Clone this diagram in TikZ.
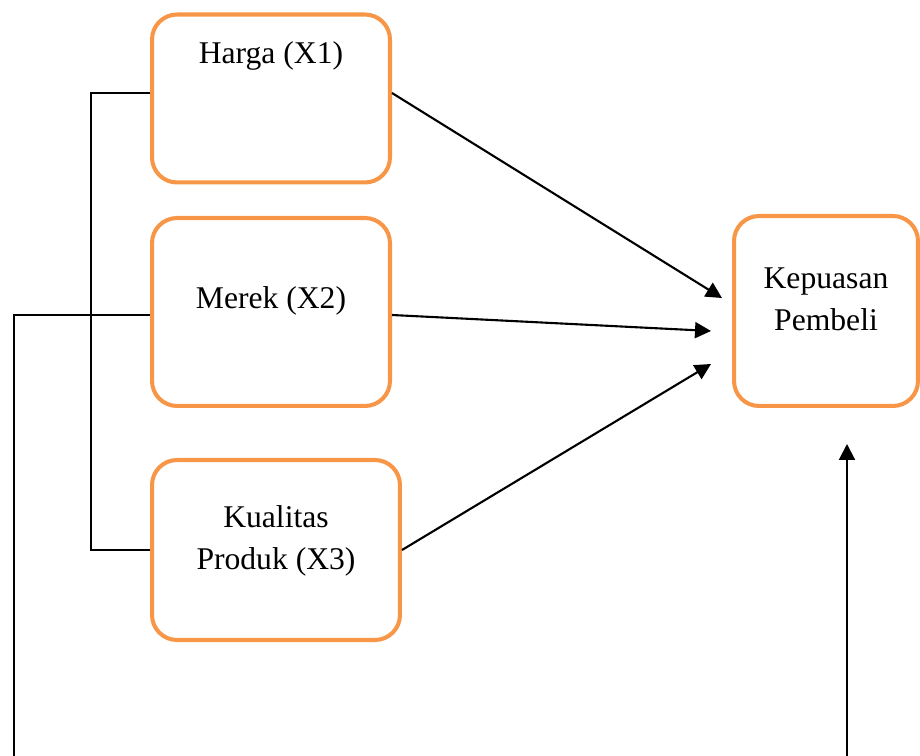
\documentclass[tikz,border=0pt]{standalone}
\usepackage{fontspec}
\setmainfont{Liberation Serif}
\usetikzlibrary{arrows.meta, positioning}

\definecolor{boxorange}{RGB}{247,150,70}

\begin{document}
\begin{tikzpicture}[
  x=0.02cm, y=-0.02cm,
  box/.style={rectangle, draw=boxorange, line width=2.3pt, rounded corners=0.5cm,
              inner sep=0pt},
  txt/.style={font=\fontsize{18}{24}\selectfont, align=center},
  edge/.style={line width=1.2pt},
  arr/.style={edge, -{Triangle[length=0.32cm, width=0.32cm]}}
]
  \useasboundingbox (0,0) rectangle (920,756);

  % Variables
  \node[box, minimum width=4.76cm, minimum height=3.36cm,
        label={[txt, yshift=0.85cm]center:Harga (X1)}] (harga) at (271,98.5) {};
  \node[box, minimum width=4.76cm, minimum height=3.76cm,
        label={[txt, yshift=0.22cm]center:Merek (X2)}] (merek) at (271,312) {};
  \node[box, minimum width=4.96cm, minimum height=3.6cm,
        label={[txt, yshift=0.19cm]center:Kualitas\\Produk (X3)}] (kualitas) at (276,550) {};

  % Dependent variable
  \node[box, minimum width=3.68cm, minimum height=3.8cm,
        label={[txt, yshift=0.24cm]center:Kepuasan\\Pembeli}] (kepuasan) at (826,311) {};

  % Free ends
  \coordinate (tipA) at (722,298);
  \coordinate (tipB) at (711,331);
  \coordinate (tipC) at (711,364);
  \coordinate (tipD) at (847,444);
  \coordinate (botL) at (14,756);
  \coordinate (botR) at (847,756);
  \coordinate (brk) at (91,0);
  \coordinate (far) at (14,0);

  % Arrows to Kepuasan Pembeli
  \draw[arr] ([yshift=0.11cm]harga.east) -- (tipA);
  \draw[arr] ([yshift=-0.06cm]merek.east) -- (tipB);
  \draw[arr] (kualitas.east) -- (tipC);
  \draw[arr] (botR) -- (tipD);

  % Bracket joining X1 and X3
  \draw[edge] ([yshift=0.11cm]harga.west) -- ([yshift=0.11cm]harga.west -| brk)
    -- (kualitas.west -| brk) -- (kualitas.west);

  % Line from X2 down to the bottom
  \draw[edge] ([yshift=-0.06cm]merek.west) -- ([yshift=-0.06cm]merek.west -| far) -- (botL);
\end{tikzpicture}
\end{document}
